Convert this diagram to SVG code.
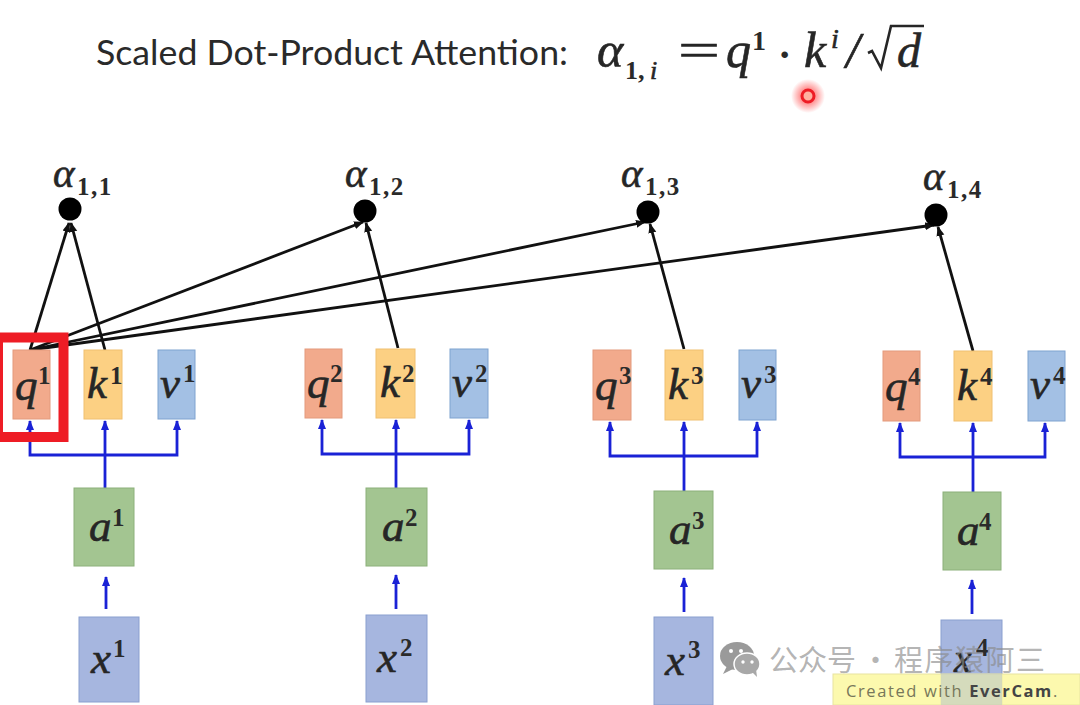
<svg xmlns="http://www.w3.org/2000/svg" width="1080" height="705" viewBox="0 0 1080 705">
<style>
.m{font-family:"Liberation Serif","DejaVu Serif",serif;font-style:italic;fill:#262626;stroke:#262626;stroke-width:.6}
.n{font-family:"Liberation Serif","DejaVu Serif",serif;font-weight:700;fill:#2a2a2a}
.big{font-size:45px}.sup{font-size:25px}.sub{font-size:25px;letter-spacing:1.500px}
.al{font-size:41px}
.q{fill:#f2aa8c;stroke:#e39a7c}.k{fill:#fcd083;stroke:#f0c070}.v{fill:#a3c0e4;stroke:#7fa3d0}
.a{fill:#a3c591;stroke:#8cb07a}.x{fill:#a6b6df;stroke:#8a9fcf}
.bl{fill:none;stroke:#1a22d6;stroke-width:2.8}
.bk{fill:none;stroke:#111;stroke-width:2.8}
.wm{font-family:"Noto Sans CJK SC",sans-serif;font-size:29px;fill:#8a8a8a;fill-opacity:.65}
</style>
<defs>
<marker id="ab" markerUnits="userSpaceOnUse" markerWidth="12" markerHeight="10" refX="9" refY="5" orient="auto-start-reverse"><path d="M0 1L10 5L0 9Z" fill="#1a22d6"/></marker>
<marker id="ak" markerUnits="userSpaceOnUse" markerWidth="12" markerHeight="10" refX="9" refY="5" orient="auto"><path d="M0 1L10 5L0 9Z" fill="#111"/></marker>
<radialGradient id="glow"><stop offset=".3" stop-color="#f33" stop-opacity=".65"/><stop offset="1" stop-color="#f33" stop-opacity="0"/></radialGradient>
</defs>
<rect width="1080" height="705" fill="#fff"/>

<g id="formula">
<text x="96" y="65" font-family="Lato,Open Sans,sans-serif" font-size="34" fill="#2a2a2a" textLength="472" lengthAdjust="spacingAndGlyphs">Scaled Dot-Product Attention:</text>
<text class="m" x="597" y="67" font-size="50">α</text>
<text class="n" x="625" y="79" font-size="26">1,</text><text class="m" x="650" y="79" font-size="26">i</text>
<text class="m" style="font-style:normal" x="678" y="67" font-size="50" textLength="42" lengthAdjust="spacingAndGlyphs">=</text>
<text class="m" x="726" y="67" font-size="50">q</text>
<text class="n" x="752" y="50" font-size="28">1</text>
<text class="n" x="778" y="68" font-size="40">·</text>
<text class="m" x="804" y="67" font-size="50">k</text>
<text class="m" x="831" y="48" font-size="28">i</text>
<text class="m" x="846" y="67" font-size="50">/</text>
<path d="M868 53l4-2 9 17 10-42h33" fill="none" stroke="#262626" stroke-width="2.6"/>
<text class="m" x="897" y="67" font-size="48">d</text>
</g>

<g id="pointer">
<circle cx="808" cy="96" r="17" fill="url(#glow)"/>
<circle cx="808" cy="96" r="6" fill="#ffb0a0" stroke="#ee1c25" stroke-width="3"/>
</g>

<g id="connectors">
<!-- attention score inputs -->
<path class="bk" d="M30 350L69 223" marker-end="url(#ak)"/>
<path class="bk" d="M105 350L71 223" marker-end="url(#ak)"/>
<path class="bk" d="M30 350L363 222" marker-end="url(#ak)"/>
<path class="bk" d="M30 350L645 222" marker-end="url(#ak)"/>
<path class="bk" d="M30 350L934 225" marker-end="url(#ak)"/>
<path class="bk" d="M398 348L366 223" marker-end="url(#ak)"/>
<path class="bk" d="M684 349L650 224" marker-end="url(#ak)"/>
<path class="bk" d="M973 351L938 227" marker-end="url(#ak)"/>
<!-- branching from each a to q, k, v -->
<path class="bl" d="M105 488V421" marker-end="url(#ab)"/><path class="bl" d="M30 421V455H177V421" marker-start="url(#ab)" marker-end="url(#ab)"/>
<path class="bl" d="M396 488V420" marker-end="url(#ab)"/><path class="bl" d="M322 420V454H469V420" marker-start="url(#ab)" marker-end="url(#ab)"/>
<path class="bl" d="M684 491V422" marker-end="url(#ab)"/><path class="bl" d="M610 422V456H757V422" marker-start="url(#ab)" marker-end="url(#ab)"/>
<path class="bl" d="M973 492V423" marker-end="url(#ab)"/><path class="bl" d="M900 423V457H1045V423" marker-start="url(#ab)" marker-end="url(#ab)"/>
<!-- from x to a -->
<path class="bl" d="M106 609V577" marker-end="url(#ab)"/>
<path class="bl" d="M396 609V575" marker-end="url(#ab)"/>
<path class="bl" d="M684 612V578" marker-end="url(#ab)"/>
<path class="bl" d="M972 614V580" marker-end="url(#ab)"/>
</g>

<g id="alpha1"><circle cx="70" cy="209" r="11.5" fill="#000"/><text class="m al" x="53" y="187">α</text><text class="n sub" x="77" y="195">1,1</text></g>
<g id="alpha2"><circle cx="365" cy="211" r="11.5" fill="#000"/><text class="m al" x="345" y="187">α</text><text class="n sub" x="369" y="195">1,2</text></g>
<g id="alpha3"><circle cx="648" cy="212" r="11.5" fill="#000"/><text class="m al" x="621" y="187">α</text><text class="n sub" x="645" y="195">1,3</text></g>
<g id="alpha4"><circle cx="936" cy="215" r="11.5" fill="#000"/><text class="m al" x="923" y="190">α</text><text class="n sub" x="947" y="198">1,4</text></g>

<g id="q1"><rect class="q" x="13" y="350" width="37" height="69"/><text class="m big" x="15" y="400">q</text><text class="n sup" x="38" y="384">1</text></g>
<g id="k1"><rect class="k" x="84" y="350" width="38" height="69"/><text class="m big" x="87" y="398">k</text><text class="n sup" x="110" y="384">1</text></g>
<g id="v1"><rect class="v" x="158" y="350" width="37" height="69"/><text class="m big" x="160" y="398">v</text><text class="n sup" x="183" y="382">1</text></g>
<g id="a1"><rect class="a" x="74" y="488" width="60" height="78"/><text class="m big" x="89" y="541">a</text><text class="n sup" x="112" y="526">1</text></g>
<g id="x1"><rect class="x" x="79" y="617" width="60" height="85"/><text class="m big" x="91" y="673">x</text><text class="n sup" x="113" y="657">1</text></g>

<g id="q2"><rect class="q" x="305" y="349" width="37" height="69"/><text class="m big" x="307" y="398">q</text><text class="n sup" x="330" y="382">2</text></g>
<g id="k2"><rect class="k" x="376" y="349" width="39" height="69"/><text class="m big" x="380" y="397">k</text><text class="n sup" x="402" y="382">2</text></g>
<g id="v2"><rect class="v" x="450" y="349" width="38" height="69"/><text class="m big" x="452" y="397">v</text><text class="n sup" x="475" y="382">2</text></g>
<g id="a2"><rect class="a" x="366" y="488" width="61" height="78"/><text class="m big" x="382" y="541">a</text><text class="n sup" x="405" y="526">2</text></g>
<g id="x2"><rect class="x" x="366" y="615" width="61" height="87"/><text class="m big" x="377" y="672">x</text><text class="n sup" x="400" y="656">2</text></g>

<g id="q3"><rect class="q" x="593" y="350" width="38" height="70"/><text class="m big" x="595" y="400">q</text><text class="n sup" x="619" y="384">3</text></g>
<g id="k3"><rect class="k" x="665" y="350" width="38" height="70"/><text class="m big" x="668" y="399">k</text><text class="n sup" x="691" y="384">3</text></g>
<g id="v3"><rect class="v" x="739" y="350" width="37" height="70"/><text class="m big" x="741" y="398">v</text><text class="n sup" x="764" y="383">3</text></g>
<g id="a3"><rect class="a" x="654" y="491" width="59" height="78"/><text class="m big" x="669" y="544">a</text><text class="n sup" x="692" y="529">3</text></g>
<g id="x3"><rect class="x" x="654" y="617" width="59" height="88"/><text class="m big" x="665" y="675">x</text><text class="n sup" x="688" y="658">3</text></g>

<g id="q4"><rect class="q" x="883" y="351" width="37" height="70"/><text class="m big" x="885" y="401">q</text><text class="n sup" x="908" y="385">4</text></g>
<g id="k4"><rect class="k" x="954" y="351" width="38" height="70"/><text class="m big" x="957" y="400">k</text><text class="n sup" x="980" y="385">4</text></g>
<g id="v4"><rect class="v" x="1028" y="351" width="37" height="70"/><text class="m big" x="1030" y="399">v</text><text class="n sup" x="1053" y="384">4</text></g>
<g id="a4"><rect class="a" x="943" y="492" width="58" height="78"/><text class="m big" x="957" y="545">a</text><text class="n sup" x="979" y="530">4</text></g>
<g id="x4"><rect class="x" x="941" y="620" width="61" height="85"/><text class="m" font-size="40" x="954" y="672">x</text><text class="n" font-size="25" x="976" y="656">4</text></g>

<g id="highlight"><rect x="-2" y="337.500" width="65.500" height="99.500" fill="none" stroke="#ee1c25" stroke-width="10"/></g>

<g id="watermark">
<ellipse cx="737" cy="656" rx="17" ry="14" fill="#9a9a9a"/><path d="M727 666l-4 8 10-5z" fill="#9a9a9a"/>
<ellipse cx="747" cy="664" rx="13" ry="11" fill="#a8a8a8" stroke="#fff" stroke-width="1.500"/><path d="M752 672l5 5-1-8z" fill="#a8a8a8"/>
<circle cx="731" cy="651" r="2" fill="#fff"/><circle cx="741" cy="651" r="2" fill="#fff"/><circle cx="743" cy="662" r="1.700" fill="#fff"/><circle cx="752" cy="662" r="1.700" fill="#fff"/>
<text class="wm" x="769" y="671">公众号</text>
<text class="wm" x="861" y="671">·</text>
<text class="wm" x="894" y="671" textLength="151">程序猿阿三</text>
</g>

<g id="badge">
<rect x="833" y="674" width="247" height="31" fill="#fcf8a0" fill-opacity=".85" stroke="#e8e4a0"/>
<rect x="941" y="674" width="61" height="31" fill="#a6b6df" fill-opacity=".35"/>
<text x="846" y="697" font-family="Open Sans,Noto Sans,sans-serif" font-size="16.500" letter-spacing="1.600" fill="#77775a">Created with <tspan font-weight="700" fill="#444">EverCam</tspan>.</text>
</g>
</svg>
